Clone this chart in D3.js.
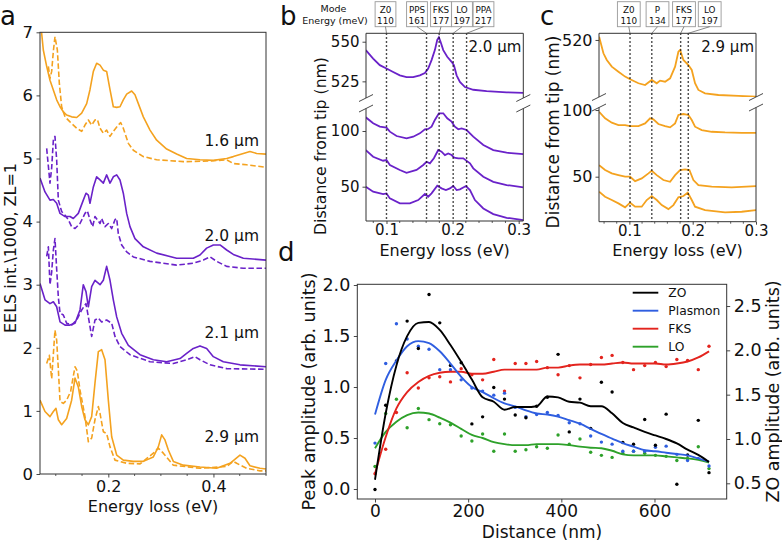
<!DOCTYPE html>
<html><head><meta charset="utf-8">
<script src="https://cdn.jsdelivr.net/npm/d3@7"></script>
<style>
body{margin:0;background:#fff;}
text{font-family:"DejaVu Sans",sans-serif;fill:#111;}
</style></head><body>
<script>
// ================= DATA =================
// Panel a: EELS spectra [energy eV, intensity]
const a16Solid=[[0.070,7.25],[0.0763,6.72],[0.0827,6.46],[0.0890,6.24],[0.1017,5.93],[0.1081,5.82],[0.1144,5.74],[0.1207,5.69],[0.1302,5.66],[0.1398,5.65],[0.1493,5.72],[0.1588,5.87],[0.1651,6.09],[0.1715,6.38],[0.1778,6.51],[0.1842,6.48],[0.1905,6.40],[0.1968,6.38],[0.2032,6.09],[0.2095,5.82],[0.2159,5.81],[0.2222,5.82],[0.2285,5.93],[0.2349,6.02],[0.2444,6.07],[0.2507,6.01],[0.2571,5.87],[0.2666,5.66],[0.2793,5.45],[0.2920,5.29],[0.3110,5.15],[0.3300,5.07],[0.3490,5.00],[0.3744,4.98],[0.3998,4.97],[0.4252,5.00],[0.4378,5.03],[0.4569,5.08],[0.4695,5.11],[0.4822,5.08],[0.5,5.07]];
const a16Dash=[[0.0859,6.46],[0.0890,6.27],[0.0922,6.38],[0.0954,6.70],[0.0985,6.93],[0.1030,6.72],[0.1068,6.19],[0.1112,5.82],[0.1176,5.66],[0.1271,5.58],[0.1398,5.48],[0.1493,5.43],[0.1556,5.53],[0.1620,5.61],[0.1683,5.53],[0.1746,5.61],[0.1791,5.62],[0.1842,5.48],[0.1905,5.40],[0.1968,5.45],[0.2032,5.35],[0.2095,5.43],[0.2190,5.53],[0.2235,5.57],[0.2285,5.48],[0.2381,5.24],[0.2476,5.13],[0.2666,5.03],[0.2920,4.98],[0.3427,4.95],[0.3935,4.96],[0.4252,4.98],[0.4378,4.92],[0.4632,4.90],[0.5,4.86]];
const a20Solid=[[0.070,4.69],[0.0795,4.47],[0.0890,4.34],[0.0954,4.35],[0.1017,4.29],[0.1081,4.13],[0.1176,4.08],[0.1271,4.08],[0.1334,4.05],[0.1429,4.13],[0.1524,4.34],[0.1575,4.45],[0.1620,4.42],[0.1651,4.29],[0.1715,4.55],[0.1778,4.71],[0.1842,4.66],[0.1905,4.61],[0.1968,4.74],[0.2032,4.61],[0.2095,4.71],[0.2159,4.74],[0.2222,4.66],[0.2285,4.45],[0.2349,4.13],[0.2412,3.92],[0.2507,3.73],[0.2666,3.60],[0.2920,3.50],[0.3300,3.42],[0.3617,3.42],[0.3744,3.47],[0.3871,3.58],[0.3998,3.63],[0.4125,3.63],[0.4252,3.55],[0.4378,3.48],[0.4569,3.42],[0.5,3.39]];
const a20Dash=[[0.0827,5.16],[0.0890,4.61],[0.0922,4.85],[0.0954,5.29],[0.0985,5.35],[0.1017,4.98],[0.1049,4.34],[0.1112,4.16],[0.1176,4.10],[0.1239,4.03],[0.1302,3.92],[0.1366,3.89],[0.1461,3.97],[0.1556,4.13],[0.1601,4.17],[0.1651,4.03],[0.1702,3.92],[0.1746,4.08],[0.1791,4.03],[0.1842,3.97],[0.1873,4.05],[0.1937,3.92],[0.2000,3.97],[0.2064,3.89],[0.2127,4.03],[0.2159,4.05],[0.2190,3.81],[0.2254,3.63],[0.2349,3.52],[0.2476,3.44],[0.2793,3.37],[0.3300,3.31],[0.3617,3.34],[0.3808,3.39],[0.3935,3.44],[0.4061,3.37],[0.4252,3.29],[0.4569,3.26],[0.5,3.26]];
const a21Solid=[[0.070,3.02],[0.0795,2.76],[0.0890,2.70],[0.0954,2.73],[0.1017,2.65],[0.1081,2.41],[0.1176,2.36],[0.1271,2.36],[0.1366,2.39],[0.1461,2.60],[0.1524,3.00],[0.1575,2.89],[0.1620,2.65],[0.1683,2.97],[0.1746,3.07],[0.1842,3.00],[0.1905,3.07],[0.1968,3.29],[0.2032,3.07],[0.2095,2.76],[0.2159,2.49],[0.2254,2.23],[0.2381,2.04],[0.2603,1.89],[0.2856,1.81],[0.3110,1.78],[0.3364,1.83],[0.3490,1.91],[0.3617,1.99],[0.3744,2.03],[0.3871,1.99],[0.3998,1.86],[0.4188,1.78],[0.4505,1.73],[0.5,1.70]];
const a21Dash=[[0.0827,3.45],[0.0859,3.60],[0.0890,3.00],[0.0922,3.20],[0.0954,3.55],[0.0985,3.73],[0.1017,3.25],[0.1049,2.80],[0.1081,2.55],[0.1144,2.52],[0.1207,2.39],[0.1302,2.36],[0.1398,2.44],[0.1493,2.60],[0.1575,2.70],[0.1620,2.49],[0.1683,2.18],[0.1746,2.44],[0.1810,2.47],[0.1873,2.41],[0.1968,2.44],[0.2064,2.39],[0.2127,2.18],[0.2222,2.02],[0.2412,1.89],[0.2793,1.78],[0.3237,1.75],[0.3490,1.81],[0.3649,1.86],[0.3744,1.81],[0.3935,1.73],[0.4252,1.67],[0.5,1.66]];
const a29Solid=[[0.070,1.17],[0.0795,0.99],[0.0890,0.91],[0.0954,0.99],[0.1004,1.04],[0.1049,0.86],[0.1112,0.78],[0.1207,0.88],[0.1302,1.17],[0.1366,1.52],[0.1429,1.38],[0.1493,1.07],[0.1556,0.86],[0.1620,0.78],[0.1683,0.91],[0.1746,1.44],[0.1810,1.94],[0.1873,1.97],[0.1937,1.81],[0.2000,1.17],[0.2064,0.59],[0.2159,0.30],[0.2285,0.22],[0.2476,0.20],[0.2666,0.20],[0.2856,0.27],[0.2951,0.43],[0.3015,0.62],[0.3078,0.54],[0.3142,0.38],[0.3237,0.20],[0.3427,0.14],[0.3744,0.11],[0.4061,0.09],[0.4315,0.17],[0.4505,0.30],[0.4600,0.25],[0.4695,0.13],[0.4886,0.09],[0.5,0.08]];
const a29Dash=[[0.0827,1.75],[0.0878,1.88],[0.0922,1.51],[0.0954,1.90],[0.0985,2.28],[0.1017,2.12],[0.1049,1.66],[0.1081,1.15],[0.1144,1.12],[0.1207,1.17],[0.1283,1.31],[0.1366,1.70],[0.1410,1.63],[0.1461,1.33],[0.1556,0.91],[0.1620,0.51],[0.1683,0.57],[0.1746,0.86],[0.1810,1.07],[0.1842,0.96],[0.1905,0.67],[0.1968,0.64],[0.2032,0.43],[0.2127,0.22],[0.2349,0.17],[0.2603,0.16],[0.2856,0.33],[0.2951,0.41],[0.3046,0.33],[0.3237,0.14],[0.3744,0.09],[0.4252,0.12],[0.4378,0.20],[0.4442,0.17],[0.4632,0.09],[0.4886,0.05],[0.5,0.05]];
const aLabels=["1.6 µm","2.0 µm","2.1 µm","2.9 µm"];
const aLabelY=[5.2,3.7,2.15,0.5];
const aYTicks=[0,1,2,3,4,5,6,7];
const aXTicks=[0.2,0.4];
const aXMinor=[0.1,0.15,0.25,0.3,0.35,0.45,0.5];

// Panel b: 2.0 µm spectra vs distance from tip (offset, nm)
const bTop=[[0.0687,544.7],[0.0798,539.4],[0.0899,535.2],[0.1,533.1],[0.1101,530.9],[0.1202,528.8],[0.1303,527.7],[0.1404,527.7],[0.1505,528.8],[0.1581,530.3],[0.1631,533.1],[0.1682,538.4],[0.1732,544.7],[0.1768,551.1],[0.1793,552.8],[0.1818,550.0],[0.1859,544.7],[0.1919,540.5],[0.1985,537.3],[0.2020,535.2],[0.2061,528.8],[0.2111,524.6],[0.2187,521.4],[0.2313,519.7],[0.2515,518.8],[0.2818,518.1],[0.3071,517.7]];
const bCurve1=[[0.0687,112.3],[0.0798,106.9],[0.0899,103.9],[0.1,103.0],[0.1051,99.4],[0.1152,95.5],[0.1303,93.4],[0.1404,94.9],[0.1505,97.9],[0.1581,101.5],[0.1631,101.8],[0.1682,103.9],[0.1732,109.9],[0.1793,115.9],[0.1859,115.9],[0.1919,111.4],[0.1985,108.4],[0.2035,103.9],[0.2086,101.5],[0.2136,102.4],[0.2212,100.9],[0.2313,94.9],[0.2465,87.4],[0.2616,82.9],[0.2818,80.5],[0.3071,79.3]];
const bCurve2=[[0.0687,82.9],[0.0798,76.9],[0.0949,73.3],[0.1,73.9],[0.1051,69.5],[0.1202,65.0],[0.1303,62.5],[0.1455,65.0],[0.1556,69.5],[0.1606,72.4],[0.1657,71.0],[0.1717,75.5],[0.1783,82.9],[0.1833,81.4],[0.1884,78.4],[0.1934,79.9],[0.1985,78.4],[0.2025,76.0],[0.2086,75.5],[0.2162,75.5],[0.2263,71.0],[0.2313,66.5],[0.2465,58.9],[0.2616,54.4],[0.2818,51.5],[0.3071,49.4]];
const bCurve3=[[0.0687,50.0],[0.0798,45.5],[0.0949,43.4],[0.1,44.0],[0.1051,39.5],[0.1202,35.0],[0.1354,35.0],[0.1480,38.0],[0.1581,43.4],[0.1631,41.0],[0.1682,44.0],[0.1768,50.9],[0.1833,48.5],[0.1899,47.0],[0.1960,48.5],[0.2010,50.6],[0.2061,47.0],[0.2111,47.6],[0.2202,50.6],[0.2263,47.0],[0.2338,38.0],[0.2465,30.5],[0.2616,25.4],[0.2818,22.1],[0.3071,20.0]];
const bModes=["Z0","PPS","FKS","LO","PPA"];
const bModeEnergy=["110","161","177","197","217"];
const bLineE=[0.1,0.1606,0.1797,0.2009,0.2212];
const bTopTicks=[525,550];
const bBotTicks=[50,100];
const bXTicks=[0.1,0.2,0.3];

// Panel c: 2.9 µm spectra
const cTop=[[0.0522,522.5],[0.0590,510],[0.0643,505],[0.0722,500],[0.0827,496.2],[0.0932,492.5],[0.1011,490.5],[0.1143,487.5],[0.1248,486.2],[0.1353,490],[0.1432,487.5],[0.1485,489.5],[0.1564,488.7],[0.1643,491.2],[0.1722,500],[0.1774,511.2],[0.1801,512.5],[0.1853,505],[0.1932,501.2],[0.1985,497.5],[0.2037,487.5],[0.2090,482.5],[0.2195,480],[0.2406,478.7],[0.2722,478],[0.3,477.5]];
const cCurve1=[[0.0522,98.7],[0.0616,93.8],[0.0722,90.5],[0.0827,88.7],[0.0932,88.7],[0.1011,88.0],[0.1143,88.0],[0.1248,90],[0.1327,93.8],[0.1379,93.0],[0.1458,89.5],[0.1564,88],[0.1643,87],[0.1722,90],[0.1774,96.3],[0.1853,97],[0.1932,96.3],[0.1985,92.5],[0.2037,87.5],[0.2143,85],[0.2300,83.7],[0.2511,83.2],[0.2774,82.9],[0.3,82.9]];
const cCurve2=[[0.0522,58.7],[0.0616,55],[0.0722,52.5],[0.0827,51.2],[0.0932,50],[0.1011,50],[0.1090,46.7],[0.1195,48.7],[0.1301,52.5],[0.1353,54.5],[0.1432,51.2],[0.1537,47.5],[0.1643,46.2],[0.1722,51.2],[0.1801,55],[0.1880,55.5],[0.1948,55],[0.2011,47.5],[0.2090,43.7],[0.2300,42.5],[0.2616,42],[0.3,43]];
const cCurve3=[[0.0522,38.7],[0.0616,35],[0.0722,32.5],[0.0827,30],[0.0932,27],[0.1011,30.5],[0.1090,27.5],[0.1195,27.5],[0.1274,32.5],[0.1353,35.5],[0.1432,32.5],[0.1511,28.7],[0.1616,25.7],[0.1695,28.7],[0.1774,34.5],[0.1853,35.5],[0.1922,38],[0.1985,32.5],[0.2037,27.5],[0.2195,25],[0.2511,23.3],[0.2774,23.7],[0.3,25]];
const cModes=["Z0","P","FKS","LO"];
const cModeEnergy=["110","134","177","197"];
const cLineE=[0.101,0.1354,0.181,0.193];
const cTopTicks=[520];
const cBotTicks=[50,100];
const cXTicks=[0.1,0.2,0.3];

// Panel d: peak amplitudes vs distance
const distance=[0,23,46,69,93,116,139,162,185,208,231,255,278,301,324,347,370,393,417,440,463,486,509,532,555,579,602,625,648,671,694,717];
const zoPts=[0.43,1.38,1.88,2.33,2.02,2.63,2.31,1.83,1.86,1.17,1.25,1.58,1.45,1.27,1.24,1.37,1.47,1.955,1.08,1.45,1.12,1.64,1.53,0.96,0.94,1.22,0.93,1.28,0.49,0.82,1.21,0.62];
const zoFit=[0.54,1.29,1.83,2.16,2.31,2.32,2.23,2.06,1.87,1.67,1.47,1.42,1.33,1.36,1.36,1.37,1.48,1.47,1.42,1.41,1.37,1.37,1.29,1.18,1.13,1.08,1.04,1.00,0.95,0.88,0.82,0.74];
const plasmonPts=[0.45,1.23,1.62,1.47,1.40,1.37,1.17,1.17,1.07,0.99,0.96,0.92,0.94,0.80,0.71,0.73,0.75,0.72,0.65,0.64,0.52,0.46,0.44,0.37,0.37,0.37,0.41,0.42,0.34,0.28,0.30,0.225];
const plasmonFit=[0.73,1.07,1.26,1.40,1.45,1.43,1.35,1.23,1.10,1.00,0.95,0.89,0.84,0.81,0.77,0.74,0.73,0.71,0.675,0.64,0.59,0.54,0.495,0.45,0.415,0.38,0.37,0.356,0.343,0.33,0.30,0.27];
const fksPts=[0.15,0.39,0.75,1.14,0.99,1.09,1.10,1.05,1.18,1.12,1.07,1.27,0.96,1.23,1.23,1.25,1.19,1.12,1.21,1.09,1.22,1.29,1.31,1.24,1.17,1.21,1.24,1.20,1.27,1.26,1.17,1.40];
const fksFit=[0.15,0.51,0.79,0.95,1.05,1.11,1.14,1.15,1.15,1.13,1.13,1.15,1.17,1.17,1.17,1.17,1.19,1.19,1.21,1.22,1.22,1.22,1.23,1.24,1.23,1.23,1.23,1.22,1.23,1.25,1.29,1.35];
const loPts=[0.22,0.74,0.88,0.60,0.79,0.68,0.64,0.63,0.52,0.47,0.54,0.37,0.54,0.37,0.385,0.415,0.40,0.53,0.44,0.49,0.36,0.33,0.31,0.35,0.37,0.35,0.33,0.32,0.28,0.30,0.415,0.20];
const loFit=[0.40,0.56,0.66,0.725,0.75,0.74,0.70,0.65,0.59,0.53,0.50,0.46,0.44,0.43,0.43,0.44,0.44,0.44,0.43,0.415,0.405,0.40,0.375,0.34,0.33,0.33,0.33,0.32,0.31,0.30,0.285,0.26];
const dSeries=["ZO","Plasmon","FKS","LO"];
const dLeftTicks=[0,0.5,1.0,1.5,2.0];
const dRightTicks=[0.5,1.0,1.5,2.0,2.5];
const dXTicks=[0,200,400,600];

// ================= DRAWING =================
const ORANGE="#f4a21f", PURPLE="#6a22c9";
const DCOL={ZO:"#000000",Plasmon:"#2f5ee0",FKS:"#e3241e",LO:"#2ea12a"};
const SP="#333";
const svg=d3.select("body").append("svg").attr("width",782).attr("height",542);
svg.append("rect").attr("width",782).attr("height",542).attr("fill","#fff");
const defs=svg.append("defs");
let clipN=0;
function clip(x0,y0,x1,y1){const id="clip"+(clipN++);defs.append("clipPath").attr("id",id).append("rect").attr("x",x0).attr("y",y0).attr("width",x1-x0).attr("height",y1-y0);return "url(#"+id+")";}
function styleAxis(g,fs){g.attr("font-family","DejaVu Sans").attr("font-size",fs);g.select(".domain").remove();g.selectAll(".tick line").attr("stroke",SP).attr("stroke-width",0.9);g.selectAll(".tick text").attr("fill","#111");}
function seg(x1,y1,x2,y2,col,w){return svg.append("line").attr("x1",x1).attr("y1",y1).attr("x2",x2).attr("y2",y2).attr("stroke",col||SP).attr("stroke-width",w||1);}
function rotLabel(txt,x,y,fs){svg.append("text").attr("transform",`translate(${x},${y}) rotate(-90)`).attr("text-anchor","middle").attr("font-size",fs).text(txt);}

// ---------- Panel a ----------
{
 const x=d3.scaleLinear().domain([0.07,0.5]).range([40,266]);
 const y=d3.scaleLinear().domain([0,7]).range([474,32.3]);
 const cp=clip(40,32.3,266,474);
 const line=d3.line().x(d=>x(d[0])).y(d=>y(d[1]));
 const curves=[[a16Solid,ORANGE,0],[a16Dash,ORANGE,1],[a20Solid,PURPLE,0],[a20Dash,PURPLE,1],[a21Solid,PURPLE,0],[a21Dash,PURPLE,1],[a29Solid,ORANGE,0],[a29Dash,ORANGE,1]];
 const g=svg.append("g").attr("clip-path",cp);
 curves.forEach(c=>g.append("path").attr("d",line(c[0])).attr("fill","none").attr("stroke",c[1]).attr("stroke-width",1.6).attr("stroke-dasharray",c[2]?"5.5,2.6":null).attr("stroke-linejoin","round"));
 aLabels.forEach((t,i)=>svg.append("text").attr("x",259).attr("y",y(aLabelY[i])).attr("text-anchor","end").attr("font-size",15.5).text(t));
 const ya=svg.append("g").attr("transform","translate(40,0)").call(d3.axisLeft(y).tickValues(aYTicks).tickFormat(d3.format("d")).tickSize(3.5).tickPadding(3.5));styleAxis(ya,16.5);
 const xa=svg.append("g").attr("transform","translate(0,474)").call(d3.axisBottom(x).tickValues(aXTicks).tickFormat(d3.format(".1f")).tickSize(3.5).tickPadding(3.5));styleAxis(xa,16);
 aXMinor.forEach(v=>seg(x(v),474,x(v),476,SP,0.8));
 svg.append("rect").attr("x",40).attr("y",32.3).attr("width",226).attr("height",441.7).attr("fill","none").attr("stroke",SP).attr("stroke-width",1);
 svg.append("text").attr("x",153).attr("y",512).attr("text-anchor","middle").attr("font-size",16).text("Energy loss (eV)");
 rotLabel("EELS int.\\1000, ZL=1",16,248,16);
 svg.append("text").attr("x",0).attr("y",25).attr("font-size",26).text("a");
}

// ---------- broken-axis panel helper (b, c) ----------
function brokenPanel(o){
 const x=d3.scaleLinear().domain(o.xd).range([o.x0,o.x1]);
 const yT=d3.scaleLinear().domain(o.yTd).range([o.tB,o.y0]);
 const yB=d3.scaleLinear().domain(o.yBd).range([o.y1,o.bT]);
 const line=(sy)=>d3.line().x(d=>x(d[0])).y(d=>sy(d[1]));
 const gT=svg.append("g").attr("clip-path",clip(o.x0,o.y0,o.x1,o.tB));
 gT.append("path").attr("d",line(yT)(o.top)).attr("fill","none").attr("stroke",o.col).attr("stroke-width",1.8);
 const gB=svg.append("g").attr("clip-path",clip(o.x0,o.bT,o.x1,o.y1));
 o.bottom.forEach(c=>gB.append("path").attr("d",line(yB)(c)).attr("fill","none").attr("stroke",o.col).attr("stroke-width",1.8));
 o.lineE.forEach(e=>seg(x(e),o.y0,x(e),o.y1,"#111",1.4).attr("stroke-dasharray","1.4,2.6"));
 seg(o.x0,o.y0,o.x1,o.y0);seg(o.x0,o.y0,o.x0,o.tB);seg(o.x1,o.y0,o.x1,o.tB);
 seg(o.x0,o.y1,o.x1,o.y1);seg(o.x0,o.bT,o.x0,o.y1);seg(o.x1,o.bT,o.x1,o.y1);
 [o.x0,o.x1].forEach(xx=>{[o.tB,o.bT].forEach(yy=>seg(xx-7,yy+3.5,xx+7,yy-3.5,SP,0.9));});
 const at=svg.append("g").attr("transform",`translate(${o.x0},0)`).call(d3.axisLeft(yT).tickValues(o.topTicks).tickFormat(d3.format("d")).tickSize(3.5).tickPadding(3));styleAxis(at,o.fs);
 const ab=svg.append("g").attr("transform",`translate(${o.x0},0)`).call(d3.axisLeft(yB).tickValues(o.botTicks).tickFormat(d3.format("d")).tickSize(3.5).tickPadding(3));styleAxis(ab,o.fs);
 const ax=svg.append("g").attr("transform",`translate(0,${o.y1})`).call(d3.axisBottom(x).tickValues(o.xTicks).tickFormat(d3.format(".1f")).tickSize(3).tickPadding(0.5));styleAxis(ax,15);
 d3.range(Math.ceil(o.xd[0]*50)/50,o.xd[1]+1e-9,0.02).forEach(v=>{if(o.xTicks.every(t=>Math.abs(t-v)>1e-6))seg(x(v),o.y1,x(v),o.y1+2,SP,0.8);});
 svg.append("text").attr("x",o.x1-2).attr("y",52).attr("text-anchor","end").attr("font-size",15).text(o.title);
 svg.append("text").attr("x",(o.x0+o.x1)/2).attr("y",255.5).attr("text-anchor","middle").attr("font-size",16).text("Energy loss (eV)");
 rotLabel("Distance from tip (nm)",o.ylx,o.yly,o.ylfs);
 o.modes.forEach((m,i)=>{
   const cxm=o.boxC[i];
   const t1=svg.append("text").attr("x",cxm).attr("y",12.5).attr("text-anchor","middle").attr("font-size",8.8).text(m);
   const t2=svg.append("text").attr("x",cxm).attr("y",23.5).attr("text-anchor","middle").attr("font-size",8.8).text(o.modeE[i]);
   const w=Math.max(t1.node().getComputedTextLength(),t2.node().getComputedTextLength())+2*o.pad;
   svg.insert("rect","text").attr("x",cxm-w/2).attr("y",1.7).attr("width",w).attr("height",25).attr("fill","#fff").attr("stroke","#999").attr("stroke-width",0.9);
   seg(cxm,26.7,x(o.lineE[i]),o.y0,"#555",0.7);
 });
}

brokenPanel({xd:[0.069,0.307],x0:366,x1:523.3,y0:33.3,y1:221,tB:98,bT:108.5,yTd:[514.5,555.3],yBd:[19.2,120.2],
 top:bTop,bottom:[bCurve1,bCurve2,bCurve3],col:PURPLE,lineE:bLineE,topTicks:bTopTicks,botTicks:bBotTicks,xTicks:bXTicks,
 fs:15,title:"2.0 µm",ylx:326,yly:146,ylfs:15.7,modes:bModes,modeE:bModeEnergy,boxC:[385.5,417,441,462,483.5],pad:2});
brokenPanel({xd:[0.052,0.3],x0:599,x1:756,y0:33.3,y1:221.7,tB:97,bT:107.5,yTd:[477.2,525],yBd:[16.25,101.9],
 top:cTop,bottom:[cCurve1,cCurve2,cCurve3],col:ORANGE,lineE:cLineE,topTicks:cTopTicks,botTicks:cBotTicks,xTicks:cXTicks,
 fs:16,title:"2.9 µm",ylx:559,yly:132,ylfs:17,modes:cModes,modeE:cModeEnergy,boxC:[628.8,657.5,684,709.7],pad:3});
svg.append("text").attr("x",333.5).attr("y",12).attr("text-anchor","middle").attr("font-size",9.5).text("Mode");
svg.append("text").attr("x",335).attr("y",24).attr("text-anchor","middle").attr("font-size",9.5).text("Energy (meV)");
svg.append("text").attr("x",280).attr("y",25).attr("font-size",26).text("b");
svg.append("text").attr("x",540).attr("y",25).attr("font-size",26).text("c");

// ---------- Panel d ----------
{
 const x=d3.scaleLinear().domain([-38,755]).range([357.3,726.7]);
 const yL=d3.scaleLinear().domain([-0.098,2.007]).range([499,284.3]);
 const yR=d3.scaleLinear().domain([0.323,2.745]).range([499,284.3]);
 const cp=clip(357.3,284.3,726.7,499);
 const g=svg.append("g").attr("clip-path",cp);
 const series=[["ZO",zoPts,zoFit,yR],["Plasmon",plasmonPts,plasmonFit,yL],["FKS",fksPts,fksFit,yL],["LO",loPts,loFit,yL]];
 [...series].reverse().forEach(s=>{
   g.selectAll(null).data(s[1]).enter().append("circle").attr("cx",(d,i)=>x(distance[i])).attr("cy",d=>s[3](d)).attr("r",1.7).attr("fill",DCOL[s[0]]);
 });
 [...series].reverse().forEach(s=>{
   const ln=d3.line().x((d,i)=>x(distance[i])).y(d=>s[3](d)).curve(d3.curveMonotoneX);
   g.append("path").attr("d",ln(s[2])).attr("fill","none").attr("stroke",DCOL[s[0]]).attr("stroke-width",1.9);
 });
 svg.append("rect").attr("x",357.3).attr("y",284.3).attr("width",369.4).attr("height",214.7).attr("fill","none").attr("stroke",SP).attr("stroke-width",1);
 const al=svg.append("g").attr("transform","translate(357.3,0)").call(d3.axisLeft(yL).tickValues(dLeftTicks).tickFormat(d3.format(".1f")).tickSize(3.5).tickPadding(3.5));styleAxis(al,17.5);
 const ar=svg.append("g").attr("transform","translate(726.7,0)").call(d3.axisRight(yR).tickValues(dRightTicks).tickFormat(d3.format(".1f")).tickSize(3.5).tickPadding(3.5));styleAxis(ar,17.5);
 const ab=svg.append("g").attr("transform","translate(0,499)").call(d3.axisBottom(x).tickValues(dXTicks).tickFormat(d3.format("d")).tickSize(3.5).tickPadding(2.5));styleAxis(ab,17);
 svg.append("text").attr("x",542).attr("y",537.5).attr("text-anchor","middle").attr("font-size",17).text("Distance (nm)");
 rotLabel("Peak amplitude (arb. units)",315,391.5,17.5);
 rotLabel("ZO amplitude (arb. units)",779,391.5,17.5);
 dSeries.forEach((s,i)=>{
   const yy=292.7+i*18;
   seg(632.7,yy,658.3,yy,DCOL[s],1.9);
   svg.append("text").attr("x",668.3).attr("y",yy+4.5).attr("font-size",12.3).text(s);
 });
 svg.append("text").attr("x",278).attr("y",261).attr("font-size",26).text("d");
}
</script></body></html>
